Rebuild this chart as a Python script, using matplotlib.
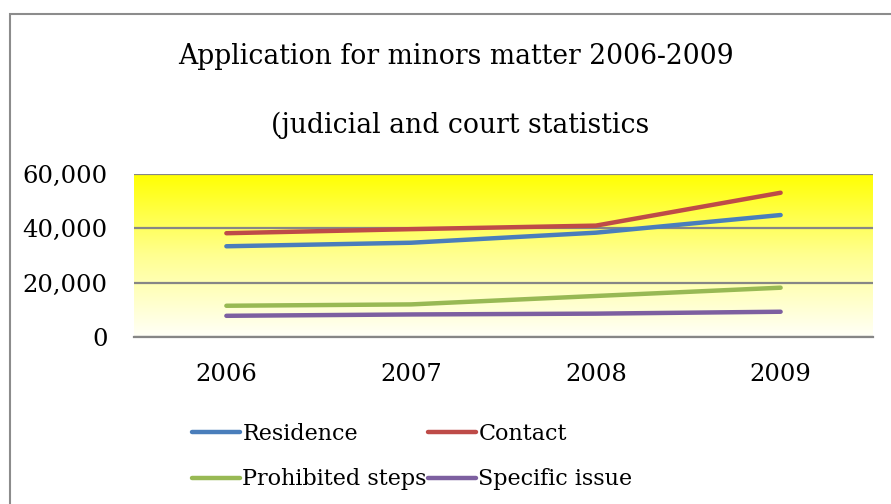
import numpy as np
import matplotlib
matplotlib.use("Agg")
import matplotlib.pyplot as plt
from matplotlib.patches import Rectangle
from matplotlib.colors import LinearSegmentedColormap

# Data
years = ["2006", "2007", "2008", "2009"]
residence = [33400, 34700, 38400, 44900]
contact = [38200, 39700, 41000, 53100]
prohibited_steps = [11500, 12000, 15100, 18150]
specific_issue = [7800, 8300, 8600, 9300]

series = [
    ("Residence", residence, "#4A7EBB"),
    ("Contact", contact, "#BE4B48"),
    ("Prohibited steps", prohibited_steps, "#98B954"),
    ("Specific issue", specific_issue, "#7D60A0"),
]

plt.rcParams['font.family'] = ['DejaVu Serif']
FS = 17.5

fig = plt.figure(figsize=(8.91, 5.04), dpi=100)
W, H = 891, 504

# outer chart border
fig.patches.append(Rectangle((10 / W, -0.1), 1.2, 1.1 - 14 / H, transform=fig.transFigure,
                             fill=False, edgecolor="#8c8c8c", linewidth=1.5))

ax = fig.add_axes([134 / W, 1 - 337 / H, (873 - 134) / W, (337 - 174) / H])

# yellow gradient background
cmap = LinearSegmentedColormap.from_list("yg", ["#FFFFF8", "#FFFF90", "#FFFF00"])
grad = np.linspace(0, 1, 256).reshape(-1, 1)
ax.imshow(grad, aspect="auto", cmap=cmap, origin="lower",
          extent=[-0.5, 3.5, 0, 60000], zorder=0)

x = np.arange(len(years))
lines = {}
for label, vals, color in series:
    lines[label], = ax.plot(x, vals, color=color, linewidth=3.2, solid_capstyle="round",
                            solid_joinstyle="round", label=label, zorder=3)

ax.set_xlim(-0.5, 3.5)
ax.set_ylim(0, 60000)
ax.set_yticks([0, 20000, 40000, 60000])
ax.set_yticklabels(["0", "20,000", "40,000", "60,000"])
ax.set_xticks(x)
ax.set_xticklabels(years)
ax.tick_params(length=0, labelsize=FS, colors="black")
ax.tick_params(axis="y", pad=19)
ax.tick_params(axis="x", pad=19)
ax.grid(axis="y", color="#868686", linewidth=1.6, zorder=1)
ax.set_axisbelow(True)
for s in ["left", "right", "top"]:
    ax.spines[s].set_visible(False)
ax.spines["bottom"].set_color("#868686")
ax.spines["bottom"].set_linewidth(1.6)

fig.text(456 / W, 1 - 57 / H, "Application for minors matter 2006-2009",
         ha="center", va="center", fontsize=19.2)
fig.text(460 / W, 1 - 125 / H, "(judicial and court statistics",
         ha="center", va="center", fontsize=19.2)

# legend filled row by row: matplotlib fills columns, so reorder
order = ["Residence", "Prohibited steps", "Contact", "Specific issue"]
fig.legend([lines[k] for k in order], order, loc="upper left",
           bbox_to_anchor=(172 / W, 1 - 403 / H), ncol=2,
           frameon=False, fontsize=16, handlelength=2.15, handletextpad=0.12,
           columnspacing=0.05, labelspacing=1.05)

fig.savefig("out.png", dpi=100)
